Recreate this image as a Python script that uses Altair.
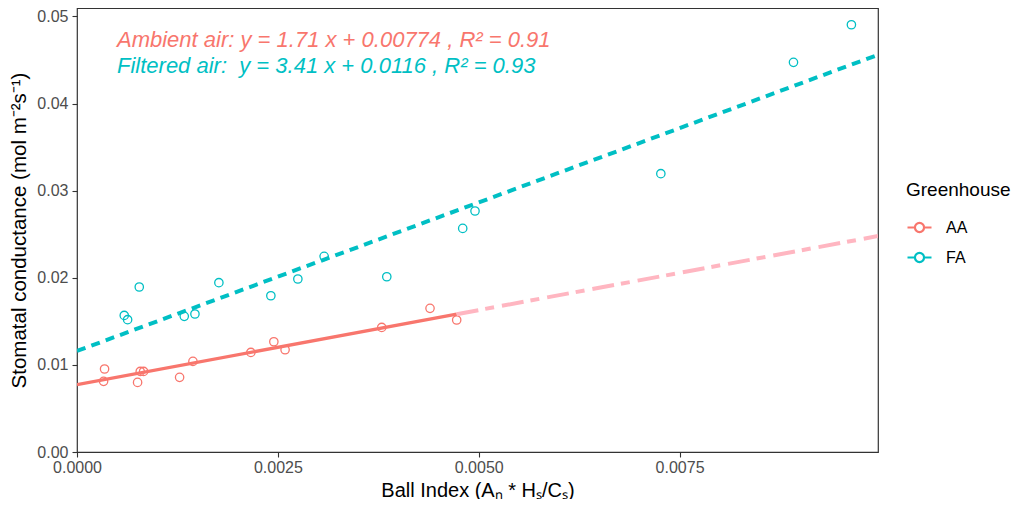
import altair as alt
import pandas as pd

# ---- data ----
groups = ["AA", "FA"]
colors = ["#F8766D", "#00BFC4"]

aa_x = [0.000343, 0.000331, 0.000754, 0.000787, 0.000829, 0.001277, 0.001443,
        0.002164, 0.002450, 0.002590, 0.003793, 0.004394, 0.004726]
aa_y = [0.00953, 0.00811, 0.00799, 0.00925, 0.00925, 0.00857, 0.01040,
        0.01143, 0.01266, 0.01174, 0.01430, 0.01649, 0.01515]

fa_x = [0.000588, 0.000630, 0.000775, 0.001335, 0.001468, 0.001766, 0.002413,
        0.002749, 0.003076, 0.003856, 0.004801, 0.004954, 0.007267, 0.008918,
        0.009639]
fa_y = [0.01568, 0.01519, 0.01894, 0.01557, 0.01584, 0.01944, 0.01794,
        0.01986, 0.02246, 0.02012, 0.02567, 0.02767, 0.03195, 0.04473,
        0.04905]

slopes = [1.71, 3.41]
intercepts = [0.00774, 0.0116]
eq_labels = ["Ambient air: y = 1.71 x + 0.00774 , R\u00b2 = 0.91",
             "Filtered air:\u00a0 y = 3.41 x + 0.0116 , R\u00b2 = 0.93"]

x_domain = [0, 0.00997]
y_domain = [0, 0.05097]
x_ticks = [0.0, 0.0025, 0.005, 0.0075]
y_ticks = [0.0, 0.01, 0.02, 0.03, 0.04, 0.05]

FONT = "Liberation Sans"

# ---- tables ----
pts = pd.DataFrame({
    "x": aa_x + fa_x,
    "y": aa_y + fa_y,
    "Greenhouse": ["AA"] * len(aa_x) + ["FA"] * len(fa_x),
})


def seg(x0, x1, k):
    return pd.DataFrame({"x": [x0, x1],
                         "y": [slopes[k] * x0 + intercepts[k], slopes[k] * x1 + intercepts[k]]})


aa_fit = seg(0, max(aa_x), 0)
aa_ext = seg(max(aa_x), x_domain[1], 0)
fa_fit = seg(0, x_domain[1], 1)

xs = alt.Scale(domain=x_domain, nice=False, zero=False)
ys = alt.Scale(domain=y_domain, nice=False, zero=False)

x_axis = alt.Axis(values=x_ticks, format=".4f", grid=False, domain=False,
                  tickColor="#333333", tickSize=5, tickWidth=1.1,
                  labelFont=FONT, labelFontSize=16, labelColor="#4D4D4D",
                  labelPadding=2, labelFlush=False, labelOverlap=False,
                  title="Ball Index (A\u2099 * H\u209b/C\u209b)",
                  titleFont=FONT, titleFontSize=20, titleFontWeight="normal",
                  titleColor="black", titlePadding=5)
y_axis = alt.Axis(values=y_ticks, format=".2f", grid=False, domain=False,
                  tickColor="#333333", tickSize=5, tickWidth=1.1,
                  labelFont=FONT, labelFontSize=16, labelColor="#4D4D4D",
                  labelPadding=4, labelFlush=False, labelOverlap=False,
                  title="Stomatal conductance (mol m\u207b\u00b2s\u207b\u00b9)",
                  titleFont=FONT, titleFontSize=20.5, titleFontWeight="normal",
                  titleColor="black", titlePadding=7)

legend_symbol = ("M-1,0L-0.38,0M0.38,0L1,0M0.38,0"
                 "A0.38,0.38,0,1,1,-0.38,0A0.38,0.38,0,1,1,0.38,0")

points = alt.Chart(pts).mark_point(shape="circle", filled=False, size=70,
                                   strokeWidth=1.3, opacity=1).encode(
    x=alt.X("x:Q", scale=xs, axis=x_axis),
    y=alt.Y("y:Q", scale=ys, axis=y_axis),
    color=alt.Color("Greenhouse:N", scale=alt.Scale(domain=groups, range=colors),
                    legend=alt.Legend(orient="none", legendX=829, legendY=173,
                                      title="Greenhouse", titleFont=FONT,
                                      titleFontSize=19, titleFontWeight="normal",
                                      titleColor="black", titlePadding=14,
                                      labelFont=FONT, labelFontSize=16,
                                      labelColor="black", labelOffset=13,
                                      symbolType=legend_symbol, symbolSize=576,
                                      symbolStrokeWidth=2.2, rowPadding=7,
                                      padding=0)),
)

line_aa = alt.Chart(aa_fit).mark_line(color=colors[0], strokeWidth=3.3, clip=True).encode(
    x=alt.X("x:Q", scale=xs), y=alt.Y("y:Q", scale=ys))
line_ext = alt.Chart(aa_ext).mark_line(color="#FFB6C1", strokeWidth=4,
                                       strokeDash=[22, 7, 9, 8], clip=True).encode(
    x=alt.X("x:Q", scale=xs), y=alt.Y("y:Q", scale=ys))
line_fa = alt.Chart(fa_fit).mark_line(color=colors[1], strokeWidth=4,
                                      strokeDash=[9, 6.3], clip=True).encode(
    x=alt.X("x:Q", scale=xs), y=alt.Y("y:Q", scale=ys))

texts = []
for i, lab in enumerate(eq_labels):
    t = alt.Chart(pd.DataFrame({"label": [lab]})).mark_text(
        align="left", baseline="alphabetic", font=FONT, fontSize=22,
        fontStyle="italic", color=colors[i]).encode(
        x=alt.value(40), y=alt.value(38.7 + 26 * i), text="label:N")
    texts.append(t)

chart = alt.layer(points, line_aa, line_ext, line_fa, *texts).properties(
    width=801, height=444,
    autosize=alt.AutoSizeParams(type="none"),
    padding={"left": 69, "top": 0, "right": 135, "bottom": 47},
).configure_view(stroke="#333333", strokeWidth=1.2)

chart.save("out.html", embed_options={"renderer": "svg", "actions": False})
